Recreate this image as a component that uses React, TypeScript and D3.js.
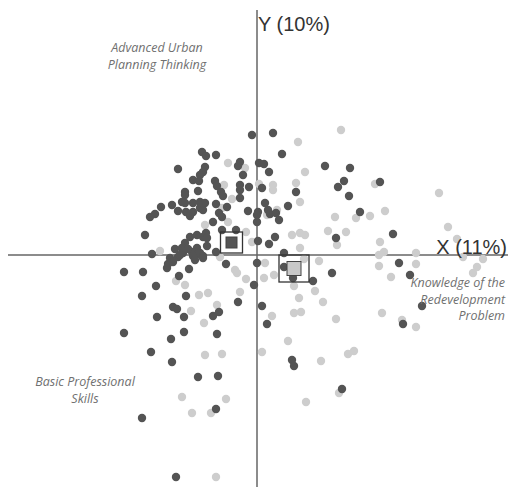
import { useEffect, useRef } from "react";
import * as d3 from "d3";

// scores on the two factorial axes
const seriesDark: [number, number][] = [
  [-0.5, 12.0], [1.6, 12.2], [-5.5, 10.3], [-5.1, 9.9], [-4.1, 10.0], [-1.7, 9.3],
  [-1.9, 8.9], [0.2, 9.2], [0.7, 9.1], [1.2, 8.3], [2.5, 10.1], [-7.9, 8.6],
  [-5.2, 8.8], [-5.4, 8.3], [-5.7, 8.0], [-6.4, 7.5], [-5.8, 7.4], [-4.2, 7.4],
  [-4.0, 6.9], [-1.4, 8.0], [-1.7, 7.0], [-1.7, 6.5], [-0.8, 6.8], [0.5, 6.7],
  [-7.2, 6.3], [-7.2, 6.0], [-5.9, 6.4], [-3.6, 6.3], [-3.4, 5.9], [-1.7, 5.7],
  [-7.5, 5.3], [-7.2, 5.2], [-6.4, 5.2], [-5.7, 5.3], [-5.2, 5.2], [-4.1, 5.1],
  [-8.5, 5.0], [-9.6, 4.8], [-7.9, 4.4], [-7.1, 4.3], [-6.7, 3.9], [-6.4, 4.3],
  [-5.7, 4.7], [-5.4, 4.5], [-3.8, 4.2], [-3.5, 3.8], [-3.0, 4.8], [-0.9, 4.4],
  [0.1, 4.3], [0.0, 4.0], [1.1, 4.5], [-10.2, 4.1], [-10.7, 3.8], [-4.4, 3.3],
  [-5.1, 2.2], [-5.4, 1.8], [-5.0, 1.7], [-6.0, 2.0], [-3.5, 2.5], [-2.1, 2.5],
  [-11.2, 2.0], [-6.7, 1.8], [-7.2, 1.2], [-7.5, 0.7], [-8.2, 0.6], [-6.0, 0.7],
  [-5.0, 0.9], [-10.5, 0.1], [-5.7, 0.2], [-4.1, 0.3], [0.0, 3.3], [0.1, 1.4],
  [0.8, 5.2], [1.3, 4.1], [1.9, 4.2], [2.2, 3.5], [3.1, 4.9], [3.9, 6.3],
  [6.8, 8.9], [9.3, 8.7], [8.7, 7.4], [8.1, 6.8], [12.3, 7.3], [9.2, 5.9],
  [10.3, 4.3], [7.9, 1.7], [1.8, 1.8], [1.2, 1.1], [13.6, 2.1], [2.7, 0.2],
  [-6.5, 0.3], [-5.9, 0.1], [-5.4, -0.1], [-6.4, -0.1], [-7.9, -0.2], [-8.7, -0.3],
  [-8.4, -0.7], [-8.9, -0.9], [-9.0, -1.3], [-7.4, 0.2], [-7.7, 0.0], [-6.2, -0.5],
  [-5.4, -0.3], [-6.8, -1.4], [-3.1, -0.9], [0.0, -0.8], [-13.3, -1.7], [-11.4, -1.7],
  [-7.8, -2.1], [-10.1, -3.1], [-11.5, -4.1], [-7.1, -4.1], [-0.3, -3.0], [-1.9, -4.7],
  [-8.4, -5.2], [-8.0, -5.4], [-10.0, -6.2], [-7.3, -6.2], [-4.4, -6.1], [-3.8, -5.7],
  [-13.3, -7.8], [-8.6, -8.4], [-7.3, -7.7], [-4.0, -7.9], [-10.6, -9.7], [-8.5, -10.7],
  [-5.9, -12.2], [-3.9, -12.1], [-4.1, -15.4], [-11.5, -16.3], [-8.1, -22.2], [0.5, -5.1],
  [1.0, -6.9], [2.7, -1.2], [3.6, -2.3], [5.6, -2.6], [7.5, -1.8], [3.5, -10.5],
  [3.7, -11.1], [8.5, -13.4], [14.2, -0.8], [15.3, -2.0], [16.5, -5.1], [14.6, -6.9],
  [-6.9, 0.6],
];

const seriesLight: [number, number][] = [
  [8.4, 12.5], [4.1, 11.3], [-2.9, 9.2], [-1.2, 8.7], [4.8, 8.3], [11.8, 7.1],
  [-3.3, 7.0], [0.2, 7.1], [1.6, 7.0], [1.6, 6.5], [3.9, 7.2], [-2.5, 5.6],
  [4.3, 5.3], [-3.5, 4.7], [1.0, 4.0], [2.0, 4.5], [-2.9, 3.3], [-5.2, 3.0],
  [-1.1, 2.3], [-0.5, 1.3], [3.5, 2.0], [4.3, 2.2], [4.8, 2.0], [4.3, 0.7],
  [7.8, 3.8], [9.9, 3.7], [11.3, 3.9], [12.8, 4.4], [7.1, 2.4], [8.9, 2.3],
  [8.0, 1.0], [12.3, 1.3], [12.2, 0.0], [12.7, 0.3], [15.9, 0.2], [18.2, 6.2],
  [19.1, 2.8], [20.0, 1.6], [20.6, -0.2], [22.6, -0.4], [22.0, -1.2], [21.6, -1.8],
  [-9.7, 0.4], [-3.7, -0.2], [-2.2, -1.5], [-2.0, -1.8], [-1.1, -2.4], [-1.7, -3.7],
  [-8.1, -2.6], [-7.2, -3.0], [-5.8, -4.0], [-4.9, -3.8], [-6.6, -5.6], [-4.0, -5.0],
  [-5.3, -6.8], [-5.2, -10.0], [-3.5, -9.9], [-7.5, -14.2], [-3.1, -14.4], [-6.5, -15.8],
  [-4.6, -15.8], [-4.1, -22.2], [0.7, -2.3], [1.7, -2.0], [0.8, -0.8], [3.7, -3.1],
  [5.8, -3.6], [4.2, -4.3], [6.6, -4.7], [3.7, -5.8], [4.4, -5.7], [1.5, -6.1],
  [7.9, -6.4], [6.2, -0.6], [4.7, -0.4], [12.2, -1.1], [13.4, -2.2], [15.9, -0.9],
  [12.5, -5.8], [15.9, -7.2], [14.5, -6.5], [3.1, -8.6], [0.5, -9.7], [6.4, -10.6],
  [9.1, -9.9], [9.7, -9.6], [8.2, -13.8], [4.9, -14.7],
];

// group centroids: [x, y]
const centroidDark: [number, number] = [-2.55, 1.25];
const centroidLight: [number, number] = [3.7, -1.35];

const xDomain: [number, number] = [-24.9, 25.1];
const yDomain: [number, number] = [24.5, -23.2];

const xAxisTitle = "X (11%)";
const yAxisTitle = "Y (10%)";

const quadrantLabels = [
  { lines: ["Advanced Urban", "Planning Thinking"], at: [-10, 20.3], anchor: "middle" },
  { lines: ["Knowledge of the", "Redevelopment", "Problem"], at: [24.8, -3.2], anchor: "end" },
  { lines: ["Basic Professional", "Skills"], at: [-17.2, -13.1], anchor: "middle" },
];

const W = 508;
const H = 487;

const App = () => {
  const svgRef = useRef<SVGSVGElement | null>(null);

  useEffect(() => {
    if (!svgRef.current) return;
    const svg = d3.select(svgRef.current);
    svg.selectAll("*").remove();

    const x = d3.scaleLinear().domain(xDomain).range([8, 508]);
    const y = d3.scaleLinear().domain(yDomain).range([10, 487]);

    // axes through the origin
    svg.append("line")
      .attr("x1", x(xDomain[0])).attr("x2", x(xDomain[1]))
      .attr("y1", y(0)).attr("y2", y(0))
      .attr("stroke", "#666").attr("stroke-width", 1.5);
    svg.append("line")
      .attr("x1", x(0)).attr("x2", x(0))
      .attr("y1", y(yDomain[0])).attr("y2", y(yDomain[1]))
      .attr("stroke", "#666").attr("stroke-width", 1.5);

    // points
    svg.append("g")
      .selectAll("circle")
      .data(seriesLight)
      .join("circle")
      .attr("cx", (d) => x(d[0]))
      .attr("cy", (d) => y(d[1]))
      .attr("r", 4.2)
      .attr("fill", "#cdcdcd");

    svg.append("g")
      .selectAll("circle")
      .data(seriesDark)
      .join("circle")
      .attr("cx", (d) => x(d[0]))
      .attr("cy", (d) => y(d[1]))
      .attr("r", 4.2)
      .attr("fill", "#545454");

    // centroids
    const drawCentroid = (c: [number, number], outerW: number, outerH: number, inner: number, fill: string) => {
      const cx = x(c[0]);
      const cy = y(c[1]);
      svg.append("rect")
        .attr("x", cx - outerW / 2).attr("y", cy - outerH / 2)
        .attr("width", outerW).attr("height", outerH)
        .attr("fill", "none").attr("stroke", "#333").attr("stroke-width", 1.3);
      svg.append("rect")
        .attr("x", cx - inner / 2).attr("y", cy - inner / 2)
        .attr("width", inner).attr("height", inner)
        .attr("fill", fill).attr("stroke", "#444").attr("stroke-width", 1);
    };
    drawCentroid(centroidDark, 22, 21, 11, "#555");
    drawCentroid(centroidLight, 30, 27, 14, "#c8c8c8");

    // axis titles
    svg.append("text")
      .attr("x", x(0) + 1).attr("y", y(yDomain[0]) + 21)
      .attr("font-family", "Liberation Sans, Arial, sans-serif")
      .attr("font-size", 20).attr("fill", "#333")
      .text(yAxisTitle);
    svg.append("text")
      .attr("x", x(xDomain[1]) - 1).attr("y", y(0) - 1)
      .attr("text-anchor", "end")
      .attr("font-family", "Liberation Sans, Arial, sans-serif")
      .attr("font-size", 20).attr("fill", "#333")
      .text(xAxisTitle);

    // quadrant labels
    quadrantLabels.forEach((q) => {
      const t = svg.append("text")
        .attr("x", x(q.at[0])).attr("y", y(q.at[1]))
        .attr("text-anchor", q.anchor)
        .attr("font-family", "Open Sans, sans-serif")
        .attr("font-style", "italic")
        .attr("font-size", 12.5).attr("fill", "#707070");
      q.lines.forEach((line, i) => {
        t.append("tspan").attr("x", x(q.at[0])).attr("dy", i === 0 ? 0 : 16.5).text(line);
      });
    });
  }, []);

  return (
    <svg
      ref={svgRef}
      width={W}
      height={H}
      style={{ position: "absolute", left: 0, top: 0, background: "#fff" }}
    />
  );
};

export default App;
